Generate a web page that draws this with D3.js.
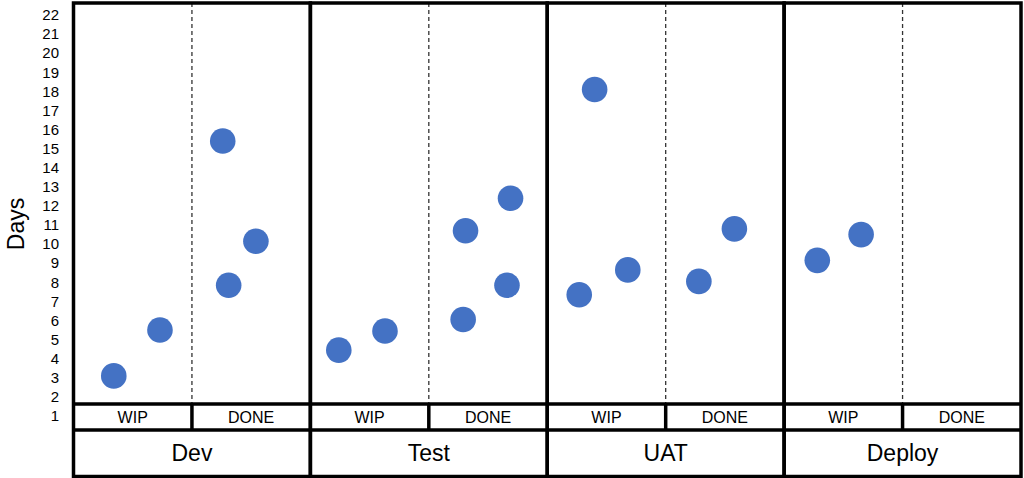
<!DOCTYPE html>
<html>
<head>
<meta charset="utf-8">
<script src="https://cdn.jsdelivr.net/npm/d3@7"></script>
<style>
body{margin:0;background:#fff;}
text{font-family:"Liberation Sans",Arial,sans-serif;fill:#000;}
</style>
</head>
<body>
<svg id="svg1" width="1024" height="478"></svg>
<script>
var stages = ["Dev","Test","UAT","Deploy"]
var states = ["WIP","DONE"]
var yticks = d3.range(1,23)

// each point: stage, state, position inside the sub column (0..1), days
var ptStage = ["Dev","Dev","Dev","Dev","Dev","Test","Test","Test","Test","Test","Test","UAT","UAT","UAT","UAT","UAT","Deploy","Deploy"]
var ptState = ["WIP","WIP","DONE","DONE","DONE","WIP","WIP","DONE","DONE","DONE","DONE","WIP","WIP","WIP","DONE","DONE","WIP","WIP"]
var ptPos   = [0.34,0.73,0.26,0.31,0.54,0.24,0.63,0.31,0.29,0.69,0.66,0.40,0.27,0.68,0.28,0.58,0.28,0.65]
var ptDays  = [3.1,5.5,15.4,7.85,10.15,4.45,5.45,10.7,6.05,12.4,7.85,18.1,7.35,8.65,8.05,10.8,9.15,10.5]

var left=73.5, right=1021, plotTop=3, plotBottom=404, subBottom=430, mainBottom=476.5

var svg = d3.select("#svg1")

var xStage = d3.scaleBand().domain(stages).range([left,right])
var xState = d3.scaleBand().domain(states).range([0,xStage.bandwidth()])
var y = d3.scaleLinear().domain([1,22]).range([416,15])

// y labels (no tick marks)
svg.selectAll(".ylab").data(yticks).enter().append("text")
    .attr("x",59).attr("y",function(d){return y(d)})
    .attr("dy","0.35em").attr("text-anchor","end")
    .style("font-size","15px")
    .text(function(d){return d})

svg.append("text")
    .attr("transform","translate(24,224) rotate(-90)")
    .attr("text-anchor","middle")
    .style("font-size","23px")
    .text("Days")

// dashed dividers between WIP / DONE
svg.selectAll(".dash").data(stages).enter().append("line")
    .attr("x1",function(d){return xStage(d)+xState("DONE")})
    .attr("x2",function(d){return xStage(d)+xState("DONE")})
    .attr("y1",plotTop).attr("y2",plotBottom)
    .attr("stroke","#333").attr("stroke-width",1.3)
    .attr("stroke-dasharray","4,3")

// points
var pts = ptDays.map(function(v,i){return {stage:ptStage[i],state:ptState[i],pos:ptPos[i],days:v}})
svg.selectAll("circle").data(pts).enter().append("circle")
    .attr("cx",function(d){return xStage(d.stage)+xState(d.state)+d.pos*xState.bandwidth()})
    .attr("cy",function(d){return y(d.days)})
    .attr("r",12.8)
    .attr("fill","#4472C4")

// frames
var g = svg.append("g").attr("fill","none").attr("stroke","#000").attr("stroke-width",3.5)
g.selectAll(".stage").data(stages).enter().append("rect")
    .attr("x",function(d){return xStage(d)}).attr("y",plotTop)
    .attr("width",xStage.bandwidth()).attr("height",mainBottom-plotTop)
g.append("line").attr("x1",left).attr("x2",right).attr("y1",plotBottom).attr("y2",plotBottom)
g.append("line").attr("x1",left).attr("x2",right).attr("y1",subBottom).attr("y2",subBottom)
g.selectAll(".sub").data(stages).enter().append("line")
    .attr("x1",function(d){return xStage(d)+xState("DONE")})
    .attr("x2",function(d){return xStage(d)+xState("DONE")})
    .attr("y1",plotBottom).attr("y2",subBottom)

// sub labels
stages.forEach(function(s){
    svg.selectAll(".sl"+s).data(states).enter().append("text")
        .attr("x",function(d){return xStage(s)+xState(d)+xState.bandwidth()/2})
        .attr("y",(plotBottom+subBottom)/2).attr("dy","0.35em")
        .attr("text-anchor","middle")
        .style("font-size","16px")
        .text(function(d){return d})
})

// stage labels
svg.selectAll(".ml").data(stages).enter().append("text")
    .attr("x",function(d){return xStage(d)+xStage.bandwidth()/2})
    .attr("y",(subBottom+mainBottom)/2).attr("dy","0.35em")
    .attr("text-anchor","middle")
    .style("font-size","23px")
    .text(function(d){return d})
</script>
</body>
</html>
